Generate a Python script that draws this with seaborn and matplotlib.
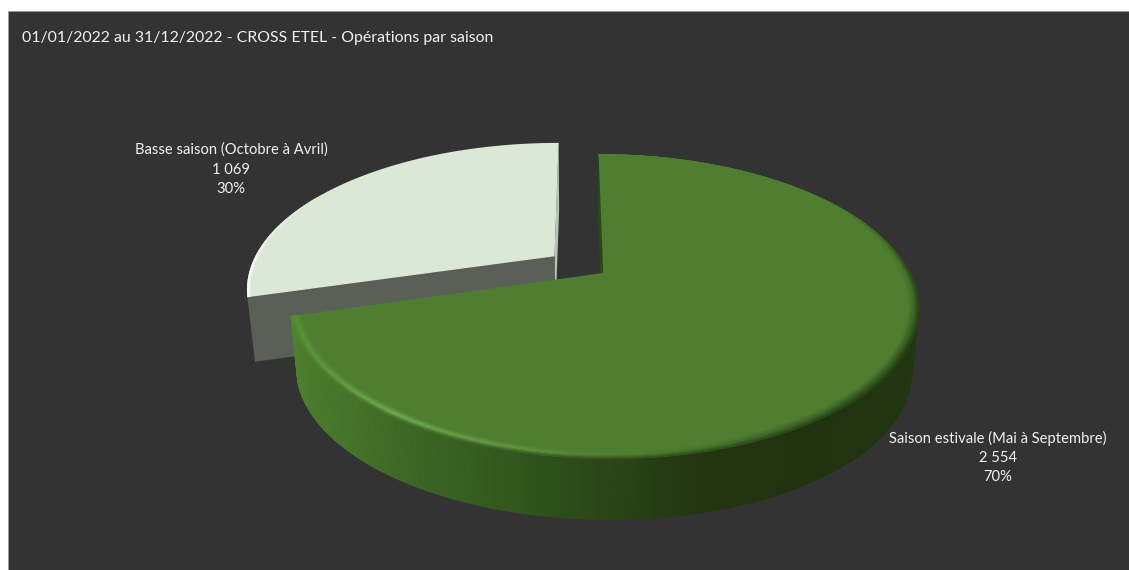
import numpy as np
import matplotlib
matplotlib.use("Agg")
import matplotlib.pyplot as plt
from matplotlib.collections import PolyCollection
from matplotlib.colors import to_rgb
from matplotlib.patches import Polygon, Rectangle
import seaborn as sns

# Annual operations per season
seasons = ["Saison estivale (Mai à Septembre)", "Basse saison (Octobre à Avril)"]
operations = [2554, 1069]
title = "01/01/2022 au 31/12/2022 - CROSS ETEL - Opérations par saison"

sns.set_theme(style="dark")
plt.rcParams["font.family"] = ["Lato", "DejaVu Sans"]

# Perspective camera for the tilted disc
VANISH_X, TOP_Y, BASE_Y = 578.0, 273.0, 338.0
RX, RY, TILT, BASE_SCALE = 307.0, 145.0, 0.22, 0.977
SUMMER_OFFSET = (0.082, 0.0)
WINTER_OFFSET = (-0.0785, 0.118)


def project(u, v, base=False):
    """Map disc coordinates to canvas pixels, on the top or the base plane."""
    w = 1 + TILT * np.asarray(v)
    s = BASE_SCALE if base else 1.0
    y0 = BASE_Y if base else TOP_Y
    return VANISH_X + s * RX * np.asarray(u) / w, y0 - s * RY * np.asarray(v) / w


def arc(start, stop, offset, r=1.0, n=240, base=False):
    """Rim of a slice; angles run clockwise from twelve o'clock, in degrees."""
    t = np.radians(np.linspace(start, stop, n))
    return np.column_stack(project(r * np.sin(t) + offset[0], r * np.cos(t) + offset[1], base))


def point(offset, base=False):
    return np.array(project(offset[0], offset[1], base))


def ramp(theta, stops):
    """Colour along the rim from (angle, colour) stops."""
    angles = [a for a, _ in stops]
    rgb = np.array([to_rgb(c) for _, c in stops])
    return np.column_stack([np.interp(theta, angles, rgb[:, i]) for i in range(3)])


fig = plt.figure(figsize=(11.29, 5.70), dpi=100, facecolor="white")
ax = fig.add_axes([0, 0, 1, 1])
ax.set_xlim(0, 1129)
ax.set_ylim(570, 0)
ax.axis("off")
ax.add_patch(Rectangle((8, 11), 1125, 565, facecolor="#333333", edgecolor="#9a9a9a", lw=0.5))

total = sum(operations)
split = 360.0 * operations[0] / total

# Low-season slice: the two cut faces first, then the top
GREY_FACE, SLIVER, PALE = "#5a5f58", "#b9c4b4", "#dbe8d5"
rim_w = arc(split, 360, WINTER_OFFSET)
apex_w, apex_wb = point(WINTER_OFFSET), point(WINTER_OFFSET, base=True)
base_w = arc(split, 360, WINTER_OFFSET, base=True)
ax.add_patch(Polygon([rim_w[-1], base_w[-1], apex_wb, apex_w], fc=SLIVER, ec="none", zorder=2))
ax.add_patch(Polygon([rim_w[0], base_w[0], apex_wb, apex_w], fc=GREY_FACE, ec="none", zorder=2))
ax.add_patch(Polygon(np.vstack([apex_w, rim_w]), fc=PALE, ec="none", zorder=3))

# Soft highlight along the low-season rim, fading out towards the back
RIM_END = 298
theta_w = np.linspace(split, RIM_END, 70)
outer = arc(split, RIM_END, WINTER_OFFSET, n=70)
inner = arc(split, RIM_END, WINTER_OFFSET, r=0.99, n=70)
quads = [[outer[i], outer[i + 1], inner[i + 1], inner[i]] for i in range(69)]
fade = 0.9 * np.clip((RIM_END - theta_w[:-1]) / (RIM_END - split), 0, 1)[:, None]
cols = np.array(to_rgb(PALE)) * (1 - fade) + fade
ax.add_collection(PolyCollection(quads, facecolors=cols, edgecolors="none", zorder=4))

# Summer slice: shaded outer wall, dark from the left tip to the right
FACE = "#4f7e31"
wall_shade = sns.blend_palette(
    ["#4e812e", "#3f6a26", "#34591f", "#2a4718", "#22350f", "#20330f", "#223611"], as_cmap=True
)
N = 420
theta = np.linspace(0, split, N)
top_rim = arc(0, split, SUMMER_OFFSET, n=N)
base_rim = arc(0, split, SUMMER_OFFSET, n=N, base=True)
quads = [[top_rim[i], top_rim[i + 1], base_rim[i + 1], base_rim[i]] for i in range(N - 1)]
span = (top_rim[:-1, 0] - top_rim[:, 0].min()) / np.ptp(top_rim[:, 0])
wall = wall_shade(span)
ax.add_collection(PolyCollection(quads, facecolors=wall, edgecolors=wall, linewidths=0.4, zorder=5))

# Thin dark wall seen on the straight cut at twelve o'clock
apex_s, apex_sb = point(SUMMER_OFFSET), point(SUMMER_OFFSET, base=True)
ax.add_patch(Polygon([top_rim[0], base_rim[0], apex_sb, apex_s], fc="#2a4718", ec="none", zorder=5))

# Flat top of the slice
ax.add_patch(Polygon(np.vstack([apex_s, top_rim]), fc=FACE, ec="none", zorder=6))

# Rounded bevel: face colour, then a crest, then the outer edge
crest_stops = [(0, FACE), (70, FACE), (95, "#42702b"), (120, "#34581f"), (150, "#3c6326"),
               (178, "#4f8032"), (198, "#669c47"), (215, "#74af54"), (235, "#5f9a3e"), (split, "#55913a")]
edge_stops = [(0, FACE), (60, FACE), (88, "#2a4518"), (120, "#22350f"), (180, "#2f4f1b"),
              (230, "#44732a"), (split, "#4f8a30")]
crest, edge, face = ramp(theta, crest_stops), ramp(theta, edge_stops), np.array(to_rgb(FACE))
BEVEL = 0.034
steps = np.linspace(1 - BEVEL, 1, 9)
polys, colours = [], []
for j in range(len(steps) - 1):
    ring_in = arc(0, split, SUMMER_OFFSET, r=steps[j], n=N)
    ring_out = arc(0, split, SUMMER_OFFSET, r=steps[j + 1], n=N)
    t = (j + 0.5) / (len(steps) - 1)
    if t < 0.55:
        mix = face * (1 - t / 0.55) + crest * (t / 0.55)
    else:
        mix = crest * (1 - (t - 0.55) / 0.45) + edge * ((t - 0.55) / 0.45)
    for i in range(N - 1):
        polys.append([ring_in[i], ring_in[i + 1], ring_out[i + 1], ring_out[i]])
        colours.append(mix[i])
ax.add_collection(PolyCollection(polys, facecolors=colours, edgecolors=colours, linewidths=0.3, zorder=7))

# Texts
LABEL = "#f2f2f2"
ax.text(22, 38, title, color=LABEL, fontsize=11.4, ha="left", va="center", zorder=10)


def slice_label(x, y, name, value):
    lines = [name, f"{value:,}".replace(",", " "), f"{round(100 * value / total)}%"]
    for k, line in enumerate(lines):
        ax.text(x, y + k * 19.7, line, color=LABEL, fontsize=10.6, ha="center", va="center", zorder=10)


slice_label(998, 438, seasons[0], operations[0])
slice_label(231, 150, seasons[1], operations[1])

fig.savefig("out.png", dpi=100, facecolor="white")
